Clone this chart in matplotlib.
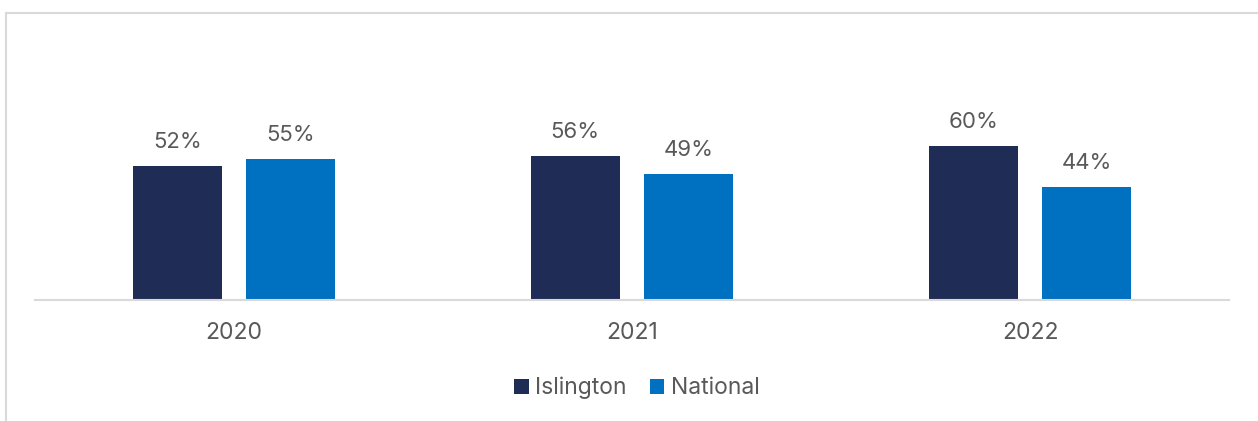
import matplotlib
matplotlib.use("Agg")
import matplotlib.pyplot as plt
from matplotlib.lines import Line2D
from matplotlib.patches import Patch
import numpy as np

years = ["2020", "2021", "2022"]
islington = [52, 56, 60]
national = [55, 49, 44]
series_names = ["Islington", "National"]
colors = ["#1F2C56", "#0070C0"]
text_color = "#595959"
border_color = "#D9D9D9"

plt.rcParams["font.family"] = ["Inter", "DejaVu Sans"]

W, H = 1258, 421
fig = plt.figure(figsize=(W / 100, H / 100), dpi=100)

# outer frame lines (top and left)
fig.add_artist(Line2D([5.5 / W, 1], [1 - 12.5 / H, 1 - 12.5 / H], transform=fig.transFigure,
                      color=border_color, lw=1.5))
fig.add_artist(Line2D([5.5 / W, 5.5 / W], [0, 1 - 12.5 / H], transform=fig.transFigure,
                      color=border_color, lw=1.5))

left, right = 35 / W, 1229 / W
bottom = (H - 299.5) / H
top = (H - 43.5) / H
ax = fig.add_axes([left, bottom, right - left, top - bottom])

x = np.arange(len(years))
width = 0.224
offset = 0.1425
b1 = ax.bar(x - offset, islington, width, color=colors[0])
b2 = ax.bar(x + offset, national, width, color=colors[1])

for bars, vals in ((b1, islington), (b2, national)):
    for rect, v in zip(bars, vals):
        ax.annotate(f"{v}%", (rect.get_x() + rect.get_width() / 2, v),
                    xytext=(0, 10), textcoords="offset points",
                    ha="center", va="bottom", fontsize=16, color=text_color)

ax.set_xlim(-0.5, 2.5)
ax.set_ylim(0, 100)
ax.set_xticks(x)
ax.set_xticklabels(years, fontsize=16.5, color=text_color)
ax.tick_params(axis="x", length=0, pad=16)
ax.set_yticks([])
for s in ("top", "right", "left"):
    ax.spines[s].set_visible(False)
ax.spines["bottom"].set_color(border_color)
ax.spines["bottom"].set_linewidth(1.5)

handles = [Patch(facecolor=c, edgecolor="none") for c in colors]
fig.legend(handles, series_names, loc="center", bbox_to_anchor=(637 / W, 1 - 388 / H),
           ncol=2, frameon=False, fontsize=16.5, labelcolor=text_color,
           handlelength=0.62, handleheight=0.62, handletextpad=0.3, columnspacing=1.0)

fig.savefig("out.png", dpi=100, facecolor="white")
